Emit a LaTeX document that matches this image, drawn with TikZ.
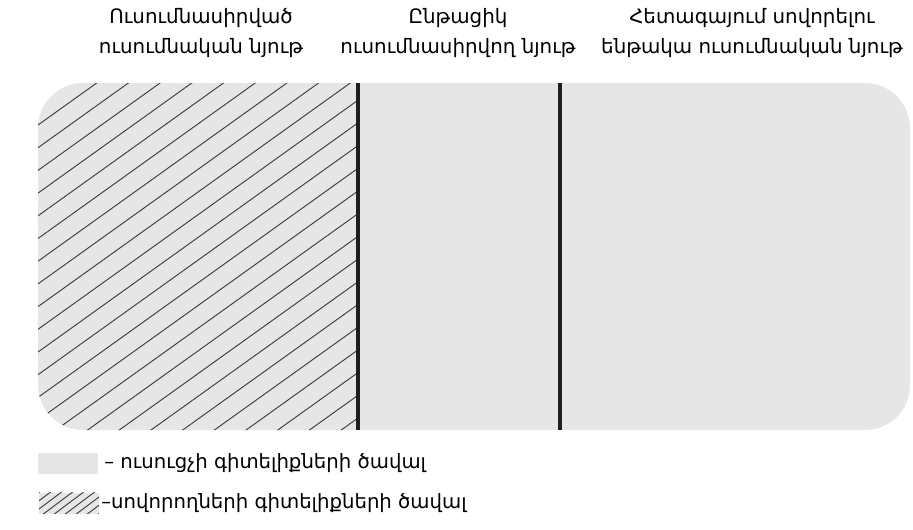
\documentclass[tikz,border=0pt]{standalone}
\usepackage{fontspec}
\setmainfont{DejaVu Sans}
\definecolor{fillcol}{HTML}{E6E6E6}
\definecolor{hatchcol}{HTML}{404040}
\definecolor{linecol}{HTML}{1E1E1E}

\begin{document}
\begin{tikzpicture}[x=0.02cm,y=-0.02cm,
  title/.style={font=\fontsize{11.3}{17}\selectfont,align=center,inner sep=0pt},
  legtext/.style={font=\fontsize{11.2}{14}\selectfont,anchor=west,inner sep=0pt},
  swatch/.style={fill=fillcol,minimum width=1.2cm,minimum height=0.42cm,inner sep=0pt}]
\useasboundingbox (0,0) rectangle (913,529);
% knowledge area
\fill[fillcol,rounded corners=0.9cm] (38,83) rectangle (910,430);
\begin{scope}
\clip[rounded corners=0.9cm] (38,83) rectangle (910,430);
\clip (38,83) rectangle (357,430);
\foreach \k in {0,...,26}
  \draw[hatchcol,line width=0.55pt] (38,{79.6+\k*22.7}) -- ++(400,-286.4);
\end{scope}
\draw[linecol,line width=2.3pt] (358,83) -- (358,430);
\draw[linecol,line width=2.3pt] (560,83) -- (560,430);
% column titles
\node[title] (studied) at (201,33) {Ուսումնասիրված\\ուսումնական նյութ};
\node[title] (current) at (458,33) {Ընթացիկ\\ուսումնասիրվող նյութ};
\node[title] (future) at (752,33) {Հետագայում սովորելու\\ենթակա ուսումնական նյութ};
% legend
\node[swatch] (teacherkey) at (68,463) {};
\node[legtext] (teacher) at (104,463) {– ուսուցչի գիտելիքների ծավալ};
\node[swatch,path picture={
  \foreach \k in {-4,...,4}
    \draw[hatchcol,line width=0.55pt,shift={(path picture bounding box.center)}] (\k*11-16,12) -- ++(32,-24);
  }] (learnerkey) at (69,503) {};
\node[legtext] (learner) at (101,503) {–սովորողների գիտելիքների ծավալ};
\end{tikzpicture}
\end{document}
